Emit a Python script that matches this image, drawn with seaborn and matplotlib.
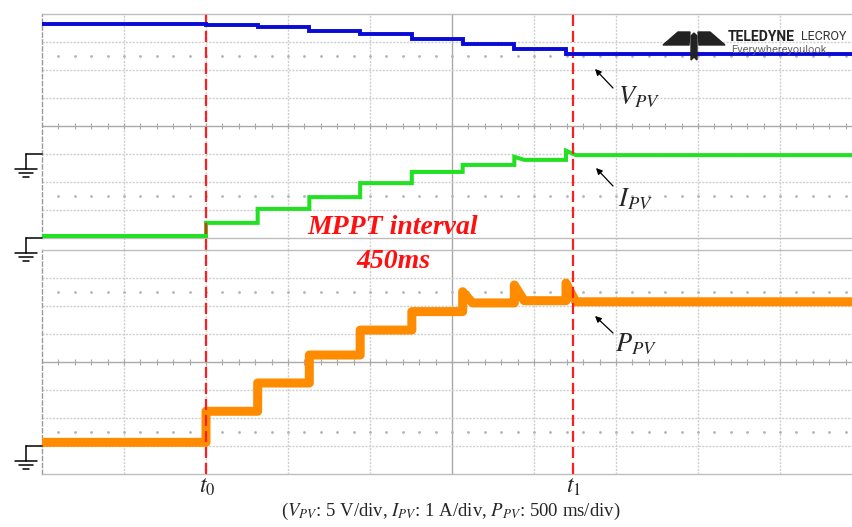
import seaborn as sns
import matplotlib.pyplot as plt
from matplotlib.patches import Polygon
import pandas as pd

# step instants of the MPPT sweep (ms from left edge of screen, 500 ms/div)
step_ms = [0, 1000, 1315, 1630, 1940, 2255, 2565, 2880, 3195, 4945]
t0_ms = 1000
t1_ms = 3240

# levels
v_pv = [23.3, 23.0, 22.6, 22.0, 21.4, 20.5, 19.7, 18.75, 17.9]   # V
i_pv = [0.07, 0.54, 1.04, 1.46, 1.96, 2.36, 2.61, 2.79, 2.96]    # A
p_pv = [1.3, 12.4, 22.5, 32.5, 41.4, 48.0, 51.1, 51.9, 51.5]     # W

# overshoot peaks at some of the steps
i_spike = {2880: 2.9, 3195: 3.12}
p_spike = {2565: 55.1, 2880: 57.5, 3195: 58.2}

W, H = 853, 527
GRID = '#cfcfcf'
CENTER = '#a9a9a9'


def build(levels, spikes):
    t, y = [], []
    for k, lvl in enumerate(levels):
        a, b = step_ms[k], step_ms[k + 1]
        if a in spikes:
            t += [a, a + 60]
            y += [spikes[a], lvl]
        else:
            t.append(a)
            y.append(lvl)
        t.append(b)
        y.append(lvl)
    return pd.DataFrame({'t': t, 'val': y})


def draw_grid(ax, ylo, per_div, gap_below=False):
    ax.set_xlim(0, step_ms[-1])
    ax.set_ylim(ylo, ylo + 8 * per_div)
    ext = -12 / 224 if gap_below else 0
    for k in range(1, 10):
        c = CENTER if k == 5 else GRID
        ls = '-' if k == 5 else (0, (1.5, 1))
        ax.axvline(k * 500, ymin=ext, ymax=1, color=c, lw=1, ls=ls,
                   clip_on=False, zorder=1)
    for k in range(1, 8):
        c = CENTER if k == 4 else GRID
        ls = '-' if k == 4 else (0, (1.5, 1))
        ax.axhline(ylo + k * per_div, color=c, lw=1, ls=ls, zorder=1)
    xs = list(range(100, step_ms[-1], 100))
    ax.plot(xs, [ylo + 4 * per_div] * len(xs), ls='none', marker='|',
            ms=4, mew=0.8, color=CENTER, zorder=1)
    for r in (1.5, 6.5):
        ax.plot(xs, [ylo + r * per_div] * len(xs), ls='none', marker='.',
                ms=2, color='#b5b5b5', zorder=1)
    for t in (t0_ms, t1_ms):
        ax.axvline(t, ymin=ext, ymax=1, color='#ff1e1e', lw=1.6,
                   ls=(0, (5, 2.2)), clip_on=False, zorder=5)
    ax.set_xticks([])
    ax.set_yticks([])
    for s in ax.spines.values():
        s.set_color('#bdbdbd')
        s.set_linewidth(1)
    ax.spines['right'].set_visible(False)
    ax.spines['left'].set_linestyle((0, (3, 2)))
    ax.spines['left'].set_color('#9a9a9a')


def ground(ax, level):
    # ground reference symbol left of the screen
    xd, yd = ax.transData.transform((0, level))
    x, y = fig.transFigure.inverted().transform((xd, yd))
    x, y = x * W, y * H
    segs = [((x, x - 16), (y, y)), ((x - 16, x - 16), (y, y - 15)),
            ((x - 27, x - 5), (y - 15, y - 15)),
            ((x - 23, x - 9), (y - 19, y - 19)),
            ((x - 19, x - 13), (y - 23, y - 23))]
    for xs, ys in segs:
        fig.add_artist(plt.Line2D([v / W for v in xs], [v / H for v in ys],
                                  transform=fig.transFigure, color='black',
                                  lw=1.1))


sns.set_style('white')
plt.rcParams['mathtext.fontset'] = 'stix'
plt.rcParams['font.family'] = ['Liberation Serif', 'DejaVu Sans']

fig = plt.figure(figsize=(W / 100, H / 100), dpi=100)
ax_top = fig.add_axes([42 / W, (H - 238) / H, 811 / W, 224 / H])
ax_bot = fig.add_axes([42 / W, (H - 474) / H, 811 / W, 224 / H])

# top screen: I on 1 A/div (ground at bottom), V on 5 V/div (ground 3 div up)
draw_grid(ax_top, 0, 1, gap_below=True)
ax_v = ax_top.twinx()
ax_v.set_ylim(-15, 25)
ax_v.set_xlim(0, step_ms[-1])
ax_v.axis('off')

sns.lineplot(data=build(i_pv, i_spike), x='t', y='val', ax=ax_top,
             estimator=None, sort=False, color='#22e022', lw=2.9,
             solid_joinstyle='miter', zorder=3)
sns.lineplot(data=build(v_pv, {}), x='t', y='val', ax=ax_v,
             estimator=None, sort=False, color='#0a0ad8', lw=2.8,
             solid_joinstyle='miter', zorder=3)
ax_top.set_xlabel('')
ax_top.set_ylabel('')
ax_v.set_ylabel('')

# bottom screen: P on 10 W/div, ground 1 div up
draw_grid(ax_bot, -10, 10)
sns.lineplot(data=build(p_pv, p_spike), x='t', y='val', ax=ax_bot,
             estimator=None, sort=False, color='#ff8c00', lw=6.5,
             solid_joinstyle='round', zorder=3)
ax_bot.set_xlabel('')
ax_bot.set_ylabel('')

ground(ax_v, 0)
ground(ax_top, 0)
ground(ax_bot, 0)

# Teledyne LeCroy logo in the corner of the screen
logo = [[(663, 45), (678, 32), (690, 32), (689, 45)],
        [(725, 45), (710, 32), (698, 32), (699, 45)],
        [(691, 36), (694, 33), (697, 36), (697, 60), (694, 57), (691, 60)]]
for poly in logo:
    fig.add_artist(Polygon([(px / W, 1 - py / H) for px, py in poly],
                           closed=True, transform=fig.transFigure,
                           color='#222222', zorder=2))
fig.text(728 / W, 1 - 37 / H, 'TELEDYNE', family='Roboto', weight='bold',
         size=10, color='#222222', va='center', zorder=2)
fig.text(801 / W, 1 - 37 / H, 'LECROY', family='Roboto', size=9,
         color='#333333', va='center', zorder=2)
fig.text(731 / W, 1 - 50 / H, 'Everywhereyoulook', family='Roboto',
         size=8, color='#666666', va='center', zorder=1)

# annotations
labels = [(r'$V_{PV}$', 618, 97, (613, 88), (595, 69)),
          (r'$I_{PV}$', 618, 199, (613, 186), (596, 168)),
          (r'$P_{PV}$', 615, 344, (613, 333), (595, 316))]
for txt, tx, ty, tail, head in labels:
    fig.text(tx / W, 1 - ty / H, txt, size=19, va='center', ha='left')
    ax_bot.annotate('', xy=(head[0], H - head[1]), xycoords='figure pixels',
                    xytext=(tail[0], H - tail[1]), textcoords='figure pixels',
                    arrowprops=dict(arrowstyle='-|>', color='black', lw=0.9,
                                    mutation_scale=9, shrinkA=0, shrinkB=0),
                    annotation_clip=False)

fig.text(393 / W, 1 - 228 / H, 'MPPT interval', color='#ff1010', size=20,
         weight='bold', style='italic', ha='center', va='center', zorder=6)
fig.text(393 / W, 1 - 261 / H, '450ms', color='#ff1010', size=20,
         weight='bold', style='italic', ha='center', va='center', zorder=6)

fig.text(207 / W, 1 - 487 / H, r'$t_0$', size=17, ha='center', va='center')
fig.text(574 / W, 1 - 487 / H, r'$t_1$', size=17, ha='center', va='center')
fig.text(451 / W, 1 - 511 / H,
         r'($V_{PV}$: 5 V/div, $I_{PV}$: 1 A/div, $P_{PV}$: 500 ms/div)',
         size=13.5, ha='center', va='center')

fig.savefig('out.png', dpi=100)
